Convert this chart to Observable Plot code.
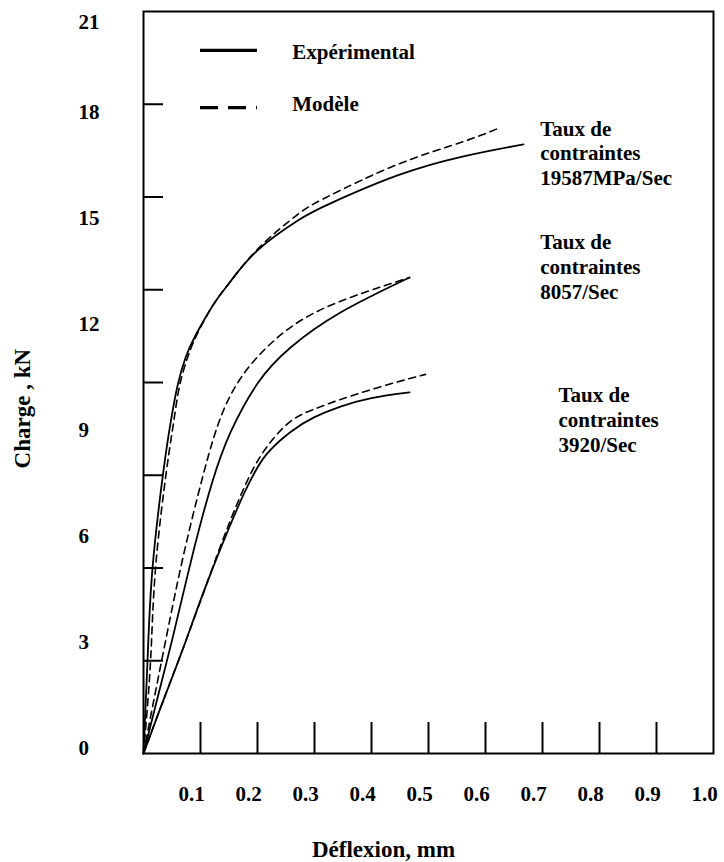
<!DOCTYPE html>
<html>
<head>
<meta charset="utf-8">
<script src="https://cdn.jsdelivr.net/npm/d3@7"></script>
<script src="https://cdn.jsdelivr.net/npm/@observablehq/plot@0.6"></script>
<style>
  html, body { margin: 0; padding: 0; background: #fff; }
  #chart svg { display: block; }
</style>
</head>
<body>
<div id="chart"></div>
<script>
// ---- data ----
const xTickMarks = [0.1, 0.2, 0.3, 0.4, 0.5, 0.6, 0.7, 0.8, 0.9];
const xTickLabels = [0.1, 0.2, 0.3, 0.4, 0.5, 0.6, 0.7, 0.8, 0.9, 1.0];
const yTickMarks = [2.625, 5.25, 7.875, 10.5, 13.125, 15.75, 18.375];
const yTickLabels = [0, 3, 6, 9, 12, 15, 18];
const yTopLabel = [21];

// Taux de contraintes 19587 MPa/Sec
const exp19587 = [[0,0],[0.007,2.6],[0.0158,5.24],[0.0351,8.01],[0.0474,9.35],[0.0596,10.4],[0.0737,11.2],[0.0912,11.83],[0.1228,12.71],[0.1526,13.36],[0.2,14.24],[0.2702,15.08],[0.3281,15.57],[0.4456,16.36],[0.5614,16.9],[0.6667,17.24]];
const mod19587 = [[0,0],[0.0123,2.6],[0.0211,5.24],[0.0404,8.01],[0.0526,9.35],[0.0632,10.4],[0.0772,11.2],[0.093,11.83],[0.1228,12.71],[0.1526,13.36],[0.2,14.27],[0.2702,15.25],[0.3281,15.8],[0.4456,16.67],[0.5614,17.32],[0.6263,17.72]];
// Taux de contraintes 8057/Sec
const exp8057 = [[0,0],[0.025,1.6],[0.053,3.4],[0.088,5.75],[0.121,7.7],[0.153,9.1],[0.2,10.47],[0.258,11.49],[0.3456,12.48],[0.4667,13.47]];
const mod8057 = [[0,0],[0.018,1.5],[0.042,3.45],[0.07,5.6],[0.105,7.9],[0.14,9.7],[0.188,11.0],[0.258,12.06],[0.3456,12.8],[0.4667,13.47]];
// Taux de contraintes 3920/Sec
const exp3920 = [[0,0],[0.03,1.3],[0.07,3.0],[0.112,4.85],[0.165,6.95],[0.19,7.8],[0.215,8.45],[0.258,9.1],[0.3,9.52],[0.3456,9.82],[0.4,10.06],[0.4667,10.22]];
const mod3920 = [[0,0],[0.03,1.3],[0.07,3.0],[0.112,4.85],[0.15,6.5],[0.186,7.85],[0.2175,8.7],[0.258,9.4],[0.3,9.75],[0.3456,10.02],[0.42,10.4],[0.4947,10.73]];

const legendLabels = ["Expérimental", "Modèle"];
const annotations = [
  {text: "Taux de\ncontraintes\n19587MPa/Sec", x: 0.696, y: 17.98},
  {text: "Taux de\ncontraintes\n8057/Sec", x: 0.696, y: 14.76},
  {text: "Taux de\ncontraintes\n3920/Sec", x: 0.728, y: 10.43}
];
const xTitle = "Déflexion, mm";
const yTitle = "Charge , kN";

// ---- build tidy tables ----
const toRows = (arr, series) => arr.map(([x, y]) => ({x, y, series}));
const expRows = [...toRows(exp19587, "19587"), ...toRows(exp8057, "8057"), ...toRows(exp3920, "3920")];
const modRows = [...toRows(mod19587, "19587"), ...toRows(mod8057, "8057"), ...toRows(mod3920, "3920")];

const font = "'Liberation Serif', 'Times New Roman', Times, serif";

const chart = Plot.plot({
  width: 724,
  height: 862,
  marginLeft: 143,
  marginRight: 11,
  marginTop: 11,
  marginBottom: 109,
  style: {fontFamily: font, fontWeight: "bold", fontSize: "21px", color: "black", background: "white"},
  x: {domain: [0, 1]},
  y: {domain: [0, 21]},
  marks: [
    Plot.frame({stroke: "black", strokeWidth: 2}),
    // inward tick marks
    Plot.axisX(xTickMarks, {anchor: "bottom", tickSize: 31, dy: -31, tickFormat: () => "", label: null, strokeWidth: 2}),
    Plot.axisY(yTickMarks, {anchor: "left", tickSize: 20, dx: 20, tickFormat: () => "", label: null, strokeWidth: 2}),
    // tick labels
    Plot.text(xTickLabels, {x: d => d, frameAnchor: "bottom", dy: 47, dx: -9, text: d => d.toFixed(1), fontSize: 21}),
    Plot.text(yTickLabels, {y: d => d, frameAnchor: "left", textAnchor: "start", dx: -65, dy: -5, text: d => String(d), fontSize: 21}),
    Plot.text(yTopLabel, {y: d => d, frameAnchor: "left", textAnchor: "start", dx: -65, dy: 11, text: d => String(d), fontSize: 21}),
    // axis titles
    Plot.text([xTitle], {frameAnchor: "bottom", dx: -45, dy: 103, text: d => d, fontSize: 23}),
    Plot.text([yTitle], {y: 9.76, frameAnchor: "left", textAnchor: "middle", dx: -121, rotate: -90, text: d => d, fontSize: 23}),
    // curves
    Plot.line(expRows, {x: "x", y: "y", z: "series", stroke: "black", strokeWidth: 1.8, curve: "natural"}),
    Plot.line(modRows, {x: "x", y: "y", z: "series", stroke: "black", strokeWidth: 1.6, strokeDasharray: "7,5", curve: "natural"}),
    // legend
    Plot.ruleY([19.9], {x1: 0.1, x2: 0.2, stroke: "black", strokeWidth: 3.2}),
    Plot.ruleY([18.28], {x1: 0.1, x2: 0.2, stroke: "black", strokeWidth: 3.2, strokeDasharray: "18,10"}),
    Plot.text([legendLabels[0]], {x: 0.261, y: 19.85, textAnchor: "start", text: d => d, fontSize: 21}),
    Plot.text([legendLabels[1]], {x: 0.261, y: 18.38, textAnchor: "start", text: d => d, fontSize: 21}),
    // annotations
    Plot.text(annotations, {x: "x", y: "y", text: "text", textAnchor: "start", lineAnchor: "top", lineHeight: 1.17, fontSize: 21})
  ]
});
document.getElementById("chart").appendChild(chart);
</script>
</body>
</html>
